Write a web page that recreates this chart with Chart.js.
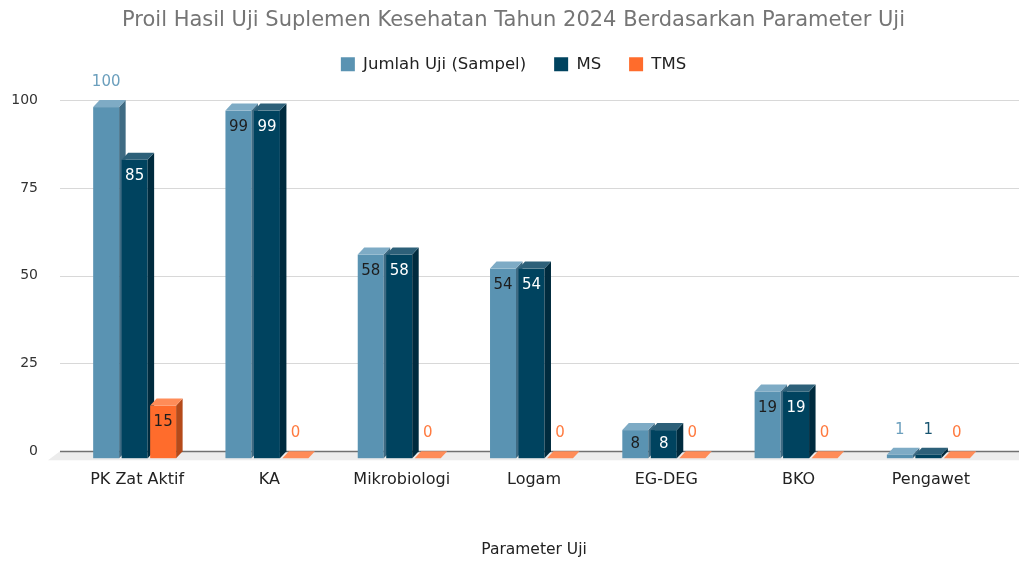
<!DOCTYPE html>
<html>
<head>
<meta charset="utf-8">
<script src="https://cdn.jsdelivr.net/npm/chart.js@4/dist/chart.umd.min.js"></script>
<style>
html,body{margin:0;padding:0;background:#ffffff;}
#wrap{width:1019px;height:561px;position:relative;}
</style>
</head>
<body>
<div id="wrap"><canvas id="c" width="1019" height="561"></canvas></div>
<script>
// ---- data ----
const categories = ['PK Zat Aktif', 'KA', 'Mikrobiologi', 'Logam', 'EG-DEG', 'BKO', 'Pengawet'];
const seriesNames = ['Jumlah Uji (Sampel)', 'MS', 'TMS'];
const jumlahUji = [100, 99, 58, 54, 8, 19, 1];
const msValues = [85, 99, 58, 54, 8, 19, 1];
const tmsValues = [15, 0, 0, 0, 0, 0, 0];
const yTicks = [0, 25, 50, 75, 100];
const chartTitle = 'Proil Hasil Uji Suplemen Kesehatan Tahun 2024 Berdasarkan Parameter Uji';
const xAxisTitle = 'Parameter Uji';

// ---- styles ----
const FONT = 'DejaVu Sans';
const faces = [
  {front: '#5a93b2', top: '#7eabc5', side: '#3f6b83', inside: '#1d1d1d', outside: '#6b9fbd'},
  {front: '#00435f', top: '#2d6079', side: '#002b3e', inside: '#ffffff', outside: '#175470'},
  {front: '#ff6c2c', top: '#ff8c58', side: '#b54a1a', inside: '#1d1d1d', outside: '#ff7b40'}
];
const DX = 6.5, DY = 7, SHIFT = 2.5;

const threeD = {
  id: 'threeD',
  beforeDatasetsDraw(chart) {
    const {ctx, chartArea} = chart;
    const y = chart.scales.y;
    const left = chartArea.left - 11;
    const right = chart.width;
    const base = y.getPixelForValue(0);
    ctx.save();
    // floor
    ctx.fillStyle = '#ececec';
    ctx.beginPath();
    ctx.moveTo(left, base);
    ctx.lineTo(right, base);
    ctx.lineTo(right, base + 9);
    ctx.lineTo(left - 12, base + 9);
    ctx.closePath();
    ctx.fill();
    // grid lines
    y.ticks.forEach(t => {
      const py = Math.round(y.getPixelForValue(t.value)) + 0.5;
      ctx.beginPath();
      ctx.moveTo(left, py);
      ctx.lineTo(right, py);
      if (t.value === 0) { ctx.strokeStyle = '#707070'; ctx.lineWidth = 1.6; }
      else { ctx.strokeStyle = '#d8d8d8'; ctx.lineWidth = 1.2; }
      ctx.stroke();
    });
    ctx.restore();
  },
  beforeDatasetDraw() { return false; },
  afterDatasetsDraw(chart) {
    const {ctx} = chart;
    const yScale = chart.scales.y;
    const yMax = yScale.max;
    ctx.save();
    const labels = [];
    chart.data.datasets.forEach((ds, d) => {
      const meta = chart.getDatasetMeta(d);
      const f = faces[d];
      meta.data.forEach((el, i) => {
        const p = el.getProps(['x', 'y', 'base', 'width'], true);
        const w = p.width;
        const x0 = p.x - w / 2 - SHIFT, x1 = x0 + w;
        const ft = p.y + DY, fb = p.base + DY;
        if (fb - ft > 0) {
          ctx.fillStyle = f.front;
          ctx.fillRect(x0, ft, w, fb - ft);
        }
        ctx.fillStyle = f.side;
        ctx.beginPath();
        ctx.moveTo(x1, ft); ctx.lineTo(x1 + DX, p.y); ctx.lineTo(x1 + DX, p.base); ctx.lineTo(x1, fb);
        ctx.closePath(); ctx.fill();
        ctx.fillStyle = f.top;
        ctx.beginPath();
        ctx.moveTo(x0, ft); ctx.lineTo(x1, ft); ctx.lineTo(x1 + DX, p.y); ctx.lineTo(x0 + DX, p.y);
        ctx.closePath(); ctx.fill();
        const v = ds.data[i];
        const cx = x0 + w / 2;
        const inside = v >= 5 && v < yMax;
        if (inside) {
          labels.push({text: String(v), x: cx, y: ft + Math.min(16.5, (fb - ft) / 2), color: f.inside});
        } else {
          labels.push({text: String(v), x: cx, y: p.y - 18, color: f.outside});
        }
      });
    });
    ctx.font = '15px "' + FONT + '"';
    ctx.textAlign = 'center';
    ctx.textBaseline = 'middle';
    labels.forEach(l => { ctx.fillStyle = l.color; ctx.fillText(l.text, l.x, l.y); });
    ctx.restore();
  }
};

const datasetValues = [jumlahUji, msValues, tmsValues];
new Chart(document.getElementById('c'), {
  type: 'bar',
  data: {
    labels: categories,
    datasets: seriesNames.map((name, d) => ({
      label: name,
      data: datasetValues[d],
      backgroundColor: faces[d].front,
      borderWidth: 0,
      categoryPercentage: 0.646,
      barPercentage: 0.912
    }))
  },
  options: {
    responsive: false,
    animation: false,
    devicePixelRatio: 1,
    layout: {padding: {left: 8, right: 0, top: 0, bottom: 0}},
    plugins: {
      title: {
        display: true,
        text: chartTitle,
        color: '#757575',
        font: {family: FONT, size: 21, weight: 'normal', lineHeight: 0.6},
        padding: {top: 14.5, bottom: 1}
      },
      subtitle: {
        display: true,
        text: '',
        weight: 500,
        font: {family: FONT, size: 10, lineHeight: 1},
        padding: {top: 0, bottom: 7.5}
      },
      legend: {
        position: 'top',
        labels: {
          boxWidth: 14,
          boxHeight: 14,
          padding: 28,
          color: '#222222',
          font: {family: FONT, size: 16.5}
        }
      },
      tooltip: {enabled: false}
    },
    scales: {
      x: {
        grid: {display: false, drawTicks: false},
        border: {display: false},
        ticks: {color: '#222222', font: {family: FONT, size: 16}, padding: 19, maxRotation: 0},
        title: {
          display: true,
          text: xAxisTitle,
          color: '#222222',
          font: {family: FONT, size: 15.5},
          padding: {top: 32, bottom: 2}
        }
      },
      y: {
        position: 'left',
        min: 0,
        max: 100,
        grid: {display: false, drawTicks: false},
        border: {display: false},
        ticks: {color: '#333333', font: {family: FONT, size: 14}, padding: 33},
        afterBuildTicks: s => { s.ticks = yTicks.map(v => ({value: v})); },
        afterFit: s => { s.width = 63; }
      },
      yRight: {
        position: 'right',
        display: true,
        min: 0,
        max: 100,
        grid: {display: false, drawTicks: false},
        border: {display: false},
        ticks: {display: false},
        afterFit: s => { s.width = 22; }
      }
    }
  },
  plugins: [threeD]
});
</script>
</body>
</html>
